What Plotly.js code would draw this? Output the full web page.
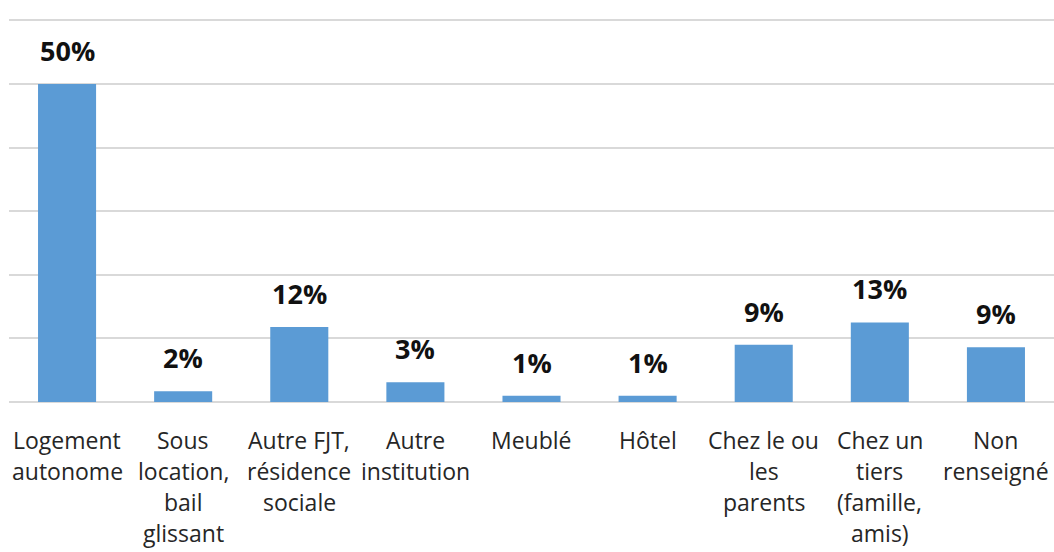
<!DOCTYPE html>
<html>
<head>
<meta charset="utf-8">
<script src="https://cdn.plot.ly/plotly-3.0.1.min.js"></script>
<style>
html,body{margin:0;padding:0;background:#fff;}
#chart{width:1054px;height:552px;}
</style>
</head>
<body>
<div id="chart"></div>
<script>
const categories = ["Logement<br>autonome", "Sous<br>location,<br>bail<br>glissant", "Autre FJT,<br>résidence<br>sociale", "Autre<br>institution", "Meublé", "Hôtel", "Chez le ou<br>les<br>parents", "Chez un<br>tiers<br>(famille,<br>amis)", "Non<br>renseigné"];
const values = [50, 1.7, 11.8, 3.1, 1.0, 1.0, 9.0, 12.5, 8.6];
const valueLabels = ["50%", "2%", "12%", "3%", "1%", "1%", "9%", "13%", "9%"];

const xIdx = categories.map((c, i) => i);

const trace = {
  type: 'bar',
  x: xIdx,
  y: values,
  marker: {color: '#5b9bd5'},
  hoverinfo: 'none'
};

const annotations = [];
values.forEach((v, i) => {
  annotations.push({
    x: i, y: v, xref: 'x', yref: 'y',
    text: valueLabels[i], showarrow: false,
    yanchor: 'bottom', yshift: 13,
    font: {family: 'Open Sans, sans-serif', size: 27, color: '#111111', weight: 'bold'}
  });
});
categories.forEach((c, i) => {
  c.split('<br>').forEach((line, j) => {
    annotations.push({
      x: i, y: 0, xref: 'x', yref: 'paper',
      text: line, showarrow: false,
      yanchor: 'middle', yshift: -(38 + 31 * j),
      font: {family: 'Open Sans, sans-serif', size: 23, color: '#262626'}
    });
  });
});

const layout = {
  width: 1054, height: 552,
  margin: {l: 9, r: 0, t: 19, b: 150},
  paper_bgcolor: '#ffffff', plot_bgcolor: '#ffffff',
  showlegend: false,
  bargap: 0.5,
  xaxis: {
    range: [-0.5, 8.5], showticklabels: false, showgrid: false,
    zeroline: false, showline: false, ticks: '', fixedrange: true
  },
  yaxis: {
    range: [0, 60.2], dtick: 10, showticklabels: false,
    gridcolor: '#d9d9d9', gridwidth: 2,
    zeroline: true, zerolinecolor: '#d9d9d9', zerolinewidth: 2,
    showline: false, ticks: '', fixedrange: true
  },
  annotations: annotations
};

Plotly.newPlot('chart', [trace], layout, {displayModeBar: false, staticPlot: true});
</script>
</body>
</html>
